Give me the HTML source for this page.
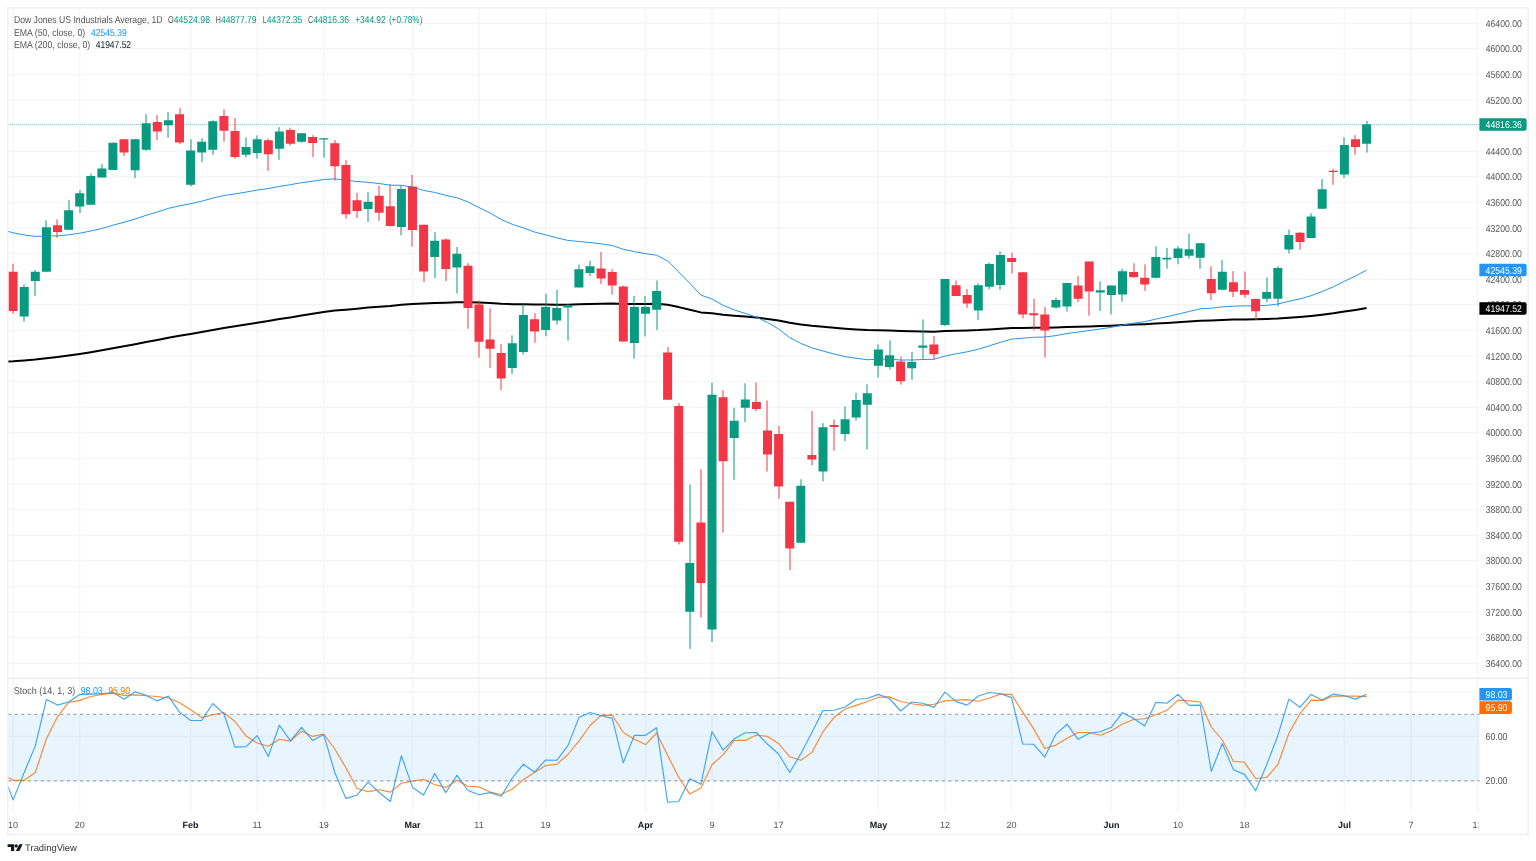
<!DOCTYPE html><html><head><meta charset="utf-8"><style>html,body{margin:0;padding:0;background:#fff;width:1536px;height:861px;overflow:hidden;}</style></head><body><svg width="1536" height="861" viewBox="0 0 1536 861" style="position:absolute;left:0;top:0;font-family:'Liberation Sans', sans-serif;text-rendering:geometricPrecision;will-change:transform"><rect x="0" y="0" width="1536" height="861" fill="#ffffff"/><path d="M8 23.2H1479M8 48.8H1479M8 74.4H1479M8 100.0H1479M8 125.6H1479M8 151.2H1479M8 176.8H1479M8 202.4H1479M8 228.0H1479M8 253.6H1479M8 279.2H1479M8 304.8H1479M8 330.4H1479M8 356.0H1479M8 381.6H1479M8 407.2H1479M8 432.8H1479M8 458.4H1479M8 484.0H1479M8 509.6H1479M8 535.2H1479M8 560.8H1479M8 586.4H1479M8 612.0H1479M8 637.6H1479M8 663.2H1479M8 692.1H1479M8 736.5H1479M8 780.9H1479M13.1 8V813.5M79.7 8V813.5M190.6 8V813.5M257.2 8V813.5M323.7 8V813.5M412.5 8V813.5M479.0 8V813.5M545.6 8V813.5M645.5 8V813.5M712.0 8V813.5M778.6 8V813.5M878.4 8V813.5M945.0 8V813.5M1011.6 8V813.5M1111.4 8V813.5M1178.0 8V813.5M1244.5 8V813.5M1344.4 8V813.5M1410.9 8V813.5M1477.5 8V813.5" stroke="#F6F6F7" stroke-width="1.5" fill="none"/><rect x="8" y="714.3" width="1471.6" height="66.6" fill="rgba(33,150,243,0.1)"/><path d="M8.2 714.3H1479.5" stroke="#787B86" stroke-width="1" stroke-dasharray="3 3.53" opacity="0.8" fill="none"/><path d="M8.2 780.9H1479.5" stroke="#787B86" stroke-width="1" stroke-dasharray="3 3.53" opacity="0.8" fill="none"/><path d="M8 124.5H1479" stroke="#089981" stroke-width="1" stroke-dasharray="1 1" opacity="0.45" fill="none"/><polyline points="8.0,361.4 13.1,361.2 24.2,360.5 35.3,359.6 46.4,358.3 57.5,357.0 68.6,355.5 79.7,353.9 90.8,352.2 101.9,350.3 112.9,348.3 124.0,346.3 135.1,344.3 146.2,342.1 157.3,340.0 168.4,337.8 179.5,335.8 190.6,334.0 201.7,332.1 212.8,330.0 223.9,328.0 235.0,326.3 246.1,324.5 257.2,322.7 268.3,321.0 279.4,319.1 290.4,317.4 301.5,315.5 312.6,313.8 323.7,312.1 334.8,310.6 345.9,309.7 357.0,308.7 368.1,307.6 379.2,306.7 390.3,305.9 401.4,304.7 412.5,304.0 423.6,303.6 434.7,303.0 445.8,302.7 456.9,302.2 468.0,302.2 479.0,302.6 490.1,303.1 501.2,303.8 512.3,304.2 523.4,304.3 534.5,304.6 545.6,304.6 556.7,304.7 567.8,304.7 578.9,304.3 590.0,303.9 601.1,303.7 612.2,303.5 623.3,303.9 634.4,303.9 645.5,303.9 656.6,303.8 667.6,304.8 678.7,307.1 689.8,309.7 700.9,312.4 712.0,313.2 723.1,314.7 734.2,315.7 745.3,316.6 756.4,317.5 767.5,318.9 778.6,320.5 789.7,322.8 800.8,324.4 811.9,325.8 823.0,326.8 834.1,327.8 845.1,328.7 856.2,329.4 867.3,330.0 878.4,330.2 889.5,330.5 900.6,331.0 911.7,331.3 922.8,331.4 933.9,331.7 945.0,331.1 956.1,330.8 967.2,330.5 978.3,330.1 989.4,329.4 1000.5,328.7 1011.6,328.0 1022.7,327.9 1033.7,327.7 1044.8,327.8 1055.9,327.5 1067.0,327.0 1078.1,326.8 1089.2,326.4 1100.3,326.1 1111.4,325.7 1122.5,325.1 1133.6,324.6 1144.7,324.2 1155.8,323.6 1166.9,322.9 1178.0,322.2 1189.1,321.4 1200.2,320.7 1211.3,320.4 1222.3,319.9 1233.4,319.6 1244.5,319.4 1255.6,319.3 1266.7,319.0 1277.8,318.5 1288.9,317.7 1300.0,316.9 1311.1,315.9 1322.2,314.7 1333.3,313.3 1344.4,311.6 1355.5,309.9 1366.6,308.1" stroke="#000000" stroke-width="2" fill="none" stroke-linejoin="round"/><polyline points="8.0,231.3 13.1,232.8 24.2,234.9 35.3,236.4 46.4,236.0 57.5,235.9 68.6,234.8 79.7,233.2 90.8,231.0 101.9,228.5 112.9,225.2 124.0,222.3 135.1,219.0 146.2,215.3 157.3,212.0 168.4,208.4 179.5,205.8 190.6,203.7 201.7,201.2 212.8,198.1 223.9,195.5 235.0,193.9 246.1,192.1 257.2,190.0 268.3,188.6 279.4,186.4 290.4,184.7 301.5,182.7 312.6,181.2 323.7,179.5 334.8,178.9 345.9,180.3 357.0,181.5 368.1,182.3 379.2,183.5 390.3,185.2 401.4,185.3 412.5,187.1 423.6,190.4 434.7,192.4 445.8,195.4 456.9,197.7 468.0,202.0 479.0,207.5 490.1,213.0 501.2,219.5 512.3,224.3 523.4,227.9 534.5,232.0 545.6,234.9 556.7,237.8 567.8,240.4 578.9,241.5 590.0,242.5 601.1,243.9 612.2,245.5 623.3,249.3 634.4,251.6 645.5,253.7 656.6,255.2 667.6,260.9 678.7,271.9 689.8,283.3 700.9,295.1 712.0,299.0 723.1,305.3 734.2,309.9 745.3,313.4 756.4,317.1 767.5,322.5 778.6,329.0 789.7,337.6 800.8,343.4 811.9,347.9 823.0,351.0 834.1,354.0 845.1,356.6 856.2,358.3 867.3,359.7 878.4,359.3 889.5,359.1 900.6,360.0 911.7,360.0 922.8,359.5 933.9,359.3 945.0,356.1 956.1,353.8 967.2,351.8 978.3,349.2 989.4,345.8 1000.5,342.3 1011.6,339.1 1022.7,338.2 1033.7,337.3 1044.8,337.0 1055.9,335.6 1067.0,333.5 1078.1,332.1 1089.2,330.5 1100.3,329.0 1111.4,327.3 1122.5,325.1 1133.6,323.2 1144.7,321.7 1155.8,319.1 1166.9,316.7 1178.0,314.1 1189.1,311.5 1200.2,308.8 1211.3,308.2 1222.3,306.8 1233.4,306.2 1244.5,305.8 1255.6,306.0 1266.7,305.4 1277.8,304.0 1288.9,301.3 1300.0,298.9 1311.1,295.7 1322.2,291.5 1333.3,286.8 1344.4,281.3 1355.5,276.0 1366.6,270.1" stroke="#2196F3" stroke-width="1" fill="none" stroke-linejoin="round"/><path d="M24 284.3V321.7M35 270.0V295.8M46 220.2V271.8M69 199.9V229.8M80 190.0V213.0M91 173.7V204.7M102 164.1V177.5M113 142.7V170.0M135 139.3V178.0M146 114.2V150.9M168 112.0V137.7M191 139.3V186.5M202 138.3V162.1M213 120.3V154.8M246 137.4V157.5M257 135.4V158.7M279 127.1V159.8M302 133.0V142.8M324 138.2V157.7M368 192.2V222.2M401 185.6V235.2M435 232.2V278.0M457 247.0V293.5M512 335.4V374.0M523 304.4V354.5M546 293.6V336.2M557 289.7V324.6M568 304.0V340.6M579 264.5V287.5M590 260.9V276.1M634 296.0V358.7M645 296.0V336.4M657 280.4V330.1M690 484.6V648.9M712 382.7V642.0M734 407.8V479.8M745 383.3V422.1M801 479.3V542.7M823 423.1V481.4M845 406.5V441.2M856 392.7V420.6M867 384.3V449.4M878 344.4V377.5M890 340.4V369.5M912 351.9V379.8M923 319.4V358.9M945 279.0V326.0M978 283.3V320.0M989 262.6V289.5M1000 251.3V289.8M1056 297.7V308.7M1067 283.0V311.7M1100 281.3V311.0M1111 285.4V314.4M1122 268.9V301.7M1156 246.3V278.5M1167 248.0V268.8M1178 246.3V264.3M1189 233.7V258.7M1200 243.2V268.9M1222 260.1V289.7M1267 277.6V302.2M1278 266.2V306.3M1289 229.6V253.5M1311 213.3V238.0M1322 179.1V208.7M1344 137.3V178.0M1367 120.9V152.6" stroke="#089981" stroke-width="1" fill="none"/><path d="M13 263.8V313.7M57 219.4V237.6M124 139.3V156.1M157 115.1V140.1M180 108.1V144.1M224 109.3V141.8M235 118.0V158.7M268 138.6V170.9M290 127.8V145.5M313 135.1V157.0M335 140.0V180.7M346 160.2V218.7M357 192.9V218.0M379 185.7V220.8M390 184.3V226.5M412 174.8V246.7M424 224.7V282.0M446 238.5V281.0M468 263.1V328.7M479 300.5V357.7M490 308.4V368.1M501 344.1V390.2M535 313.2V342.7M601 252.1V283.9M612 269.2V294.6M623 285.5V341.6M668 347.1V399.8M679 403.2V544.4M701 469.2V617.6M723 390.2V532.7M756 382.4V411.0M767 400.4V471.6M779 425.9V498.7M790 501.8V570.0M812 411.1V465.3M834 419.5V450.7M901 356.7V384.6M934 336.1V359.5M956 280.5V296.1M967 289.1V307.9M1012 252.8V273.5M1023 272.2V318.5M1034 298.9V330.3M1045 307.2V357.5M1078 276.1V302.2M1089 261.6V315.6M1134 263.3V277.3M1145 264.3V290.9M1211 266.2V299.9M1233 271.1V297.0M1245 271.7V297.6M1256 299.0V320.0M1300 232.0V249.5M1333 168.9V184.8M1355 135.2V154.7" stroke="#F23645" stroke-width="1" fill="none"/><path d="M19.7 287.0h9.0v29.4h-9.0zM30.8 271.8h9.0v9.1h-9.0zM41.9 227.2h9.0v44.6h-9.0zM64.1 210.3h9.0v19.5h-9.0zM75.2 193.2h9.0v13.4h-9.0zM86.3 176.1h9.0v28.6h-9.0zM97.4 168.4h9.0v9.1h-9.0zM108.4 142.7h9.0v27.3h-9.0zM130.6 139.3h9.0v31.0h-9.0zM141.7 123.2h9.0v26.5h-9.0zM163.9 120.3h9.0v5.0h-9.0zM186.1 150.5h9.0v34.3h-9.0zM197.2 141.8h9.0v10.8h-9.0zM208.3 121.3h9.0v28.4h-9.0zM241.6 147.0h9.0v7.8h-9.0zM252.7 139.3h9.0v13.8h-9.0zM274.9 131.6h9.0v17.1h-9.0zM297.0 133.3h9.0v8.5h-9.0zM319.2 138.2h9.0v1.3h-9.0zM363.6 201.7h9.0v7.3h-9.0zM396.9 188.9h9.0v38.0h-9.0zM430.2 240.7h9.0v16.4h-9.0zM452.4 253.8h9.0v13.6h-9.0zM507.8 343.2h9.0v24.9h-9.0zM518.9 315.0h9.0v36.9h-9.0zM541.1 307.0h9.0v23.1h-9.0zM552.2 308.0h9.0v12.6h-9.0zM563.3 304.9h9.0v2.6h-9.0zM574.4 269.2h9.0v18.3h-9.0zM585.5 266.3h9.0v6.7h-9.0zM629.9 306.9h9.0v36.2h-9.0zM641.0 306.9h9.0v6.8h-9.0zM652.1 291.1h9.0v18.6h-9.0zM685.3 563.0h9.0v48.7h-9.0zM707.5 394.8h9.0v234.7h-9.0zM729.7 420.8h9.0v17.3h-9.0zM740.8 399.5h9.0v8.3h-9.0zM796.3 485.7h9.0v57.0h-9.0zM818.5 427.2h9.0v44.4h-9.0zM840.6 419.3h9.0v14.8h-9.0zM851.7 400.1h9.0v17.4h-9.0zM862.8 393.2h9.0v11.5h-9.0zM873.9 349.6h9.0v16.2h-9.0zM885.0 355.2h9.0v11.7h-9.0zM907.2 362.1h9.0v6.1h-9.0zM918.3 345.4h9.0v2.4h-9.0zM940.5 279.0h9.0v45.9h-9.0zM973.8 285.3h9.0v25.2h-9.0zM984.9 263.9h9.0v22.9h-9.0zM996.0 255.1h9.0v29.9h-9.0zM1051.4 300.1h9.0v7.4h-9.0zM1062.5 283.0h9.0v23.4h-9.0zM1095.8 290.3h9.0v2.3h-9.0zM1106.9 285.4h9.0v9.5h-9.0zM1118.0 271.2h9.0v23.3h-9.0zM1151.3 256.9h9.0v20.9h-9.0zM1162.4 257.8h9.0v1.8h-9.0zM1173.5 248.6h9.0v9.5h-9.0zM1184.6 249.2h9.0v6.6h-9.0zM1195.7 243.2h9.0v14.6h-9.0zM1217.8 271.8h9.0v17.9h-9.0zM1262.2 292.0h9.0v6.8h-9.0zM1273.3 268.0h9.0v30.8h-9.0zM1284.4 235.1h9.0v14.3h-9.0zM1306.6 216.5h9.0v21.5h-9.0zM1317.7 189.2h9.0v19.5h-9.0zM1339.9 145.0h9.0v29.6h-9.0zM1362.1 124.3h9.0v19.5h-9.0z" fill="#089981"/><path d="M8.6 271.8h9.0v39.3h-9.0zM53.0 225.3h9.0v6.7h-9.0zM119.5 139.3h9.0v13.1h-9.0zM152.8 122.1h9.0v9.5h-9.0zM175.0 114.2h9.0v28.4h-9.0zM219.4 116.0h9.0v14.8h-9.0zM230.5 131.0h9.0v25.9h-9.0zM263.8 140.2h9.0v14.1h-9.0zM285.9 129.9h9.0v13.8h-9.0zM308.1 136.9h9.0v6.1h-9.0zM330.3 143.2h9.0v23.0h-9.0zM341.4 165.1h9.0v49.2h-9.0zM352.5 200.2h9.0v10.8h-9.0zM374.7 195.7h9.0v17.0h-9.0zM385.8 206.2h9.0v19.7h-9.0zM408.0 186.6h9.0v43.3h-9.0zM419.1 224.7h9.0v46.8h-9.0zM441.3 239.5h9.0v29.4h-9.0zM463.5 265.7h9.0v42.3h-9.0zM474.5 304.4h9.0v37.4h-9.0zM485.6 339.4h9.0v9.4h-9.0zM496.7 353.1h9.0v25.3h-9.0zM530.0 319.2h9.0v12.3h-9.0zM596.6 268.5h9.0v10.1h-9.0zM607.7 272.0h9.0v13.5h-9.0zM618.8 286.5h9.0v55.1h-9.0zM663.1 352.5h9.0v47.3h-9.0zM674.2 406.0h9.0v135.7h-9.0zM696.4 522.4h9.0v60.5h-9.0zM718.6 397.2h9.0v64.0h-9.0zM751.9 401.9h9.0v7.2h-9.0zM763.0 430.5h9.0v24.1h-9.0zM774.1 434.1h9.0v52.5h-9.0zM785.2 501.8h9.0v46.8h-9.0zM807.4 455.0h9.0v4.6h-9.0zM829.6 425.1h9.0v1.8h-9.0zM896.1 361.4h9.0v19.8h-9.0zM929.4 344.4h9.0v9.9h-9.0zM951.6 285.2h9.0v10.9h-9.0zM962.7 295.1h9.0v8.3h-9.0zM1007.1 258.1h9.0v3.8h-9.0zM1018.2 272.2h9.0v42.2h-9.0zM1029.2 313.2h9.0v2.0h-9.0zM1040.3 314.4h9.0v16.2h-9.0zM1073.6 285.4h9.0v13.4h-9.0zM1084.7 261.6h9.0v30.0h-9.0zM1129.1 272.0h9.0v5.3h-9.0zM1140.2 277.8h9.0v6.7h-9.0zM1206.8 279.0h9.0v14.3h-9.0zM1228.9 282.3h9.0v9.5h-9.0zM1240.0 290.0h9.0v4.7h-9.0zM1251.1 299.0h9.0v12.2h-9.0zM1295.5 232.8h9.0v9.2h-9.0zM1328.8 170.7h9.0v1.3h-9.0zM1351.0 139.3h9.0v7.8h-9.0z" fill="#F23645"/><polyline points="8.0,777.2 13.1,780.3 24.2,780.3 35.3,772.5 46.4,738.8 57.5,716.8 68.6,702.4 79.7,700.4 90.8,696.5 101.9,694.4 112.9,693.3 124.0,695.4 135.1,694.9 146.2,695.7 157.3,696.5 168.4,698.0 179.5,702.7 190.6,709.8 201.7,717.6 212.8,714.8 223.9,712.6 235.0,721.5 246.1,736.1 257.2,743.0 268.3,746.3 279.4,739.3 290.4,741.1 301.5,731.0 312.6,736.4 323.7,734.1 334.8,749.0 345.9,767.8 357.0,788.5 368.1,791.6 379.2,789.8 390.3,792.1 401.4,783.2 412.5,781.1 423.6,779.2 434.7,784.7 445.8,787.4 456.9,780.3 468.0,786.3 479.0,786.9 490.1,792.1 501.2,794.5 512.3,789.0 523.4,779.6 534.5,772.5 545.6,765.5 556.7,764.4 567.8,754.5 578.9,741.1 590.0,725.5 601.1,715.3 612.2,715.3 623.3,732.5 634.4,739.3 645.5,744.6 656.6,733.0 667.6,755.3 678.7,777.2 689.8,794.1 700.9,787.9 712.0,764.7 723.1,754.9 734.2,740.4 745.3,740.4 756.4,735.0 767.5,736.4 778.6,743.5 789.7,756.8 800.8,760.3 811.9,752.4 823.0,731.7 834.1,717.3 845.1,709.0 856.2,705.4 867.3,701.5 878.4,697.2 889.5,696.9 900.6,701.5 911.7,703.8 922.8,705.4 933.9,704.3 945.0,700.9 956.1,700.1 967.2,699.6 978.3,701.2 989.4,698.0 1000.5,694.1 1011.6,694.4 1022.7,712.1 1033.7,728.9 1044.8,748.5 1055.9,745.1 1067.0,738.3 1078.1,732.5 1089.2,732.5 1100.3,735.2 1111.4,730.8 1122.5,724.0 1133.6,719.5 1144.7,718.7 1155.8,714.8 1166.9,710.3 1178.0,700.1 1189.1,700.9 1200.2,702.0 1211.3,727.0 1222.3,740.0 1233.4,761.2 1244.5,762.3 1255.6,778.5 1266.7,777.5 1277.8,764.7 1288.9,733.3 1300.0,713.7 1311.1,700.1 1322.2,700.4 1333.3,696.0 1344.4,696.1 1355.5,696.1 1366.6,696.6" stroke="#FF6D00" stroke-width="1.15" fill="none" stroke-linejoin="round" opacity="0.8"/><polyline points="8.0,786.6 13.1,799.9 24.2,772.5 35.3,745.9 46.4,699.6 57.5,705.1 68.6,702.0 79.7,694.6 90.8,694.1 101.9,693.8 112.9,692.2 124.0,699.3 135.1,691.8 146.2,695.4 157.3,700.9 168.4,696.1 179.5,712.1 190.6,720.5 201.7,720.5 212.8,703.5 223.9,713.7 235.0,747.1 246.1,746.6 257.2,735.7 268.3,756.5 279.4,725.2 290.4,740.8 301.5,727.4 312.6,740.4 323.7,734.6 334.8,772.5 345.9,798.4 357.0,795.2 368.1,782.2 379.2,792.5 390.3,801.5 401.4,755.7 412.5,787.4 423.6,794.9 434.7,773.6 445.8,792.6 456.9,775.2 468.0,790.5 479.0,794.8 490.1,792.6 501.2,796.3 512.3,778.0 523.4,764.2 534.5,772.2 545.6,760.0 556.7,760.3 567.8,745.9 578.9,717.6 590.0,712.5 601.1,715.7 612.2,718.4 623.3,762.8 634.4,735.3 645.5,735.3 656.6,727.8 667.6,802.3 678.7,801.5 689.8,778.8 700.9,784.3 712.0,731.7 723.1,750.1 734.2,738.8 745.3,732.8 756.4,732.5 767.5,744.3 778.6,754.0 789.7,772.5 800.8,753.7 811.9,732.5 823.0,710.6 834.1,710.3 845.1,707.0 856.2,699.3 867.3,698.5 878.4,694.4 889.5,698.5 900.6,711.0 911.7,702.0 922.8,703.2 933.9,707.4 945.0,692.1 956.1,701.6 967.2,705.1 978.3,696.0 989.4,692.5 1000.5,693.8 1011.6,697.6 1022.7,744.0 1033.7,744.3 1044.8,757.1 1055.9,734.1 1067.0,724.2 1078.1,739.3 1089.2,733.3 1100.3,731.7 1111.4,727.2 1122.5,712.6 1133.6,718.4 1144.7,725.9 1155.8,702.4 1166.9,703.2 1178.0,694.4 1189.1,705.4 1200.2,705.1 1211.3,771.4 1222.3,743.5 1233.4,769.7 1244.5,774.4 1255.6,790.8 1266.7,764.7 1277.8,735.7 1288.9,699.1 1300.0,707.3 1311.1,694.4 1322.2,700.1 1333.3,694.1 1344.4,695.7 1355.5,699.1 1366.6,694.2" stroke="#2196F3" stroke-width="1.15" fill="none" stroke-linejoin="round" opacity="0.85"/><path d="M8 678.3H1528" stroke="#ECEEF2" stroke-width="1.5" fill="none"/><rect x="7.7" y="7.75" width="1520.4" height="826.85" stroke="#EFF0F4" stroke-width="1.5" fill="none"/><text x="13.9" y="23.0" font-size="10" fill="#555555" textLength="148.7" lengthAdjust="spacingAndGlyphs">Dow Jones US Industrials Average, 1D</text><text x="168.0" y="23.0" font-size="10" fill="#555555" textLength="5.7" lengthAdjust="spacingAndGlyphs">O</text><text x="173.7" y="23.0" font-size="10" fill="#089981" textLength="36.3" lengthAdjust="spacingAndGlyphs">44524.98</text><text x="215.8" y="23.0" font-size="10" fill="#555555" textLength="5.1" lengthAdjust="spacingAndGlyphs">H</text><text x="220.9" y="23.0" font-size="10" fill="#089981" textLength="35.7" lengthAdjust="spacingAndGlyphs">44877.79</text><text x="262.8" y="23.0" font-size="10" fill="#555555" textLength="3.9" lengthAdjust="spacingAndGlyphs">L</text><text x="266.7" y="23.0" font-size="10" fill="#089981" textLength="35.6" lengthAdjust="spacingAndGlyphs">44372.35</text><text x="308.0" y="23.0" font-size="10" fill="#555555" textLength="5.2" lengthAdjust="spacingAndGlyphs">C</text><text x="313.2" y="23.0" font-size="10" fill="#089981" textLength="35.9" lengthAdjust="spacingAndGlyphs">44816.36</text><text x="355.2" y="23.0" font-size="10" fill="#089981" textLength="30.5" lengthAdjust="spacingAndGlyphs">+344.92</text><text x="388.9" y="23.0" font-size="10" fill="#089981" textLength="33.5" lengthAdjust="spacingAndGlyphs">(+0.78%)</text><text x="13.9" y="35.6" font-size="10" fill="#555555" textLength="71.3" lengthAdjust="spacingAndGlyphs">EMA (50, close, 0)</text><text x="91.0" y="35.6" font-size="10" fill="#2196F3" textLength="35.8" lengthAdjust="spacingAndGlyphs">42545.39</text><text x="13.9" y="48.1" font-size="10" fill="#555555" textLength="76.4" lengthAdjust="spacingAndGlyphs">EMA (200, close, 0)</text><text x="95.7" y="48.1" font-size="10" fill="#131722" textLength="35.4" lengthAdjust="spacingAndGlyphs">41947.52</text><text x="13.8" y="694.0" font-size="10" fill="#555555" textLength="61.4" lengthAdjust="spacingAndGlyphs">Stoch (14, 1, 3)</text><text x="80.7" y="694.0" font-size="10" fill="#2196F3" textLength="22.0" lengthAdjust="spacingAndGlyphs">98.03</text><text x="108.2" y="694.0" font-size="10" fill="#FF6D00" textLength="21.9" lengthAdjust="spacingAndGlyphs">95.90</text><text x="1521.9" y="26.7" font-size="10" fill="#555555" textLength="36.2" lengthAdjust="spacingAndGlyphs" text-anchor="end">46400.00</text><text x="1521.9" y="52.3" font-size="10" fill="#555555" textLength="36.2" lengthAdjust="spacingAndGlyphs" text-anchor="end">46000.00</text><text x="1521.9" y="77.9" font-size="10" fill="#555555" textLength="36.2" lengthAdjust="spacingAndGlyphs" text-anchor="end">45600.00</text><text x="1521.9" y="103.5" font-size="10" fill="#555555" textLength="36.2" lengthAdjust="spacingAndGlyphs" text-anchor="end">45200.00</text><text x="1521.9" y="154.7" font-size="10" fill="#555555" textLength="36.2" lengthAdjust="spacingAndGlyphs" text-anchor="end">44400.00</text><text x="1521.9" y="180.3" font-size="10" fill="#555555" textLength="36.2" lengthAdjust="spacingAndGlyphs" text-anchor="end">44000.00</text><text x="1521.9" y="205.9" font-size="10" fill="#555555" textLength="36.2" lengthAdjust="spacingAndGlyphs" text-anchor="end">43600.00</text><text x="1521.9" y="231.5" font-size="10" fill="#555555" textLength="36.2" lengthAdjust="spacingAndGlyphs" text-anchor="end">43200.00</text><text x="1521.9" y="257.1" font-size="10" fill="#555555" textLength="36.2" lengthAdjust="spacingAndGlyphs" text-anchor="end">42800.00</text><text x="1521.9" y="282.7" font-size="10" fill="#555555" textLength="36.2" lengthAdjust="spacingAndGlyphs" text-anchor="end">42400.00</text><text x="1521.9" y="308.3" font-size="10" fill="#555555" textLength="36.2" lengthAdjust="spacingAndGlyphs" text-anchor="end">42000.00</text><text x="1521.9" y="333.9" font-size="10" fill="#555555" textLength="36.2" lengthAdjust="spacingAndGlyphs" text-anchor="end">41600.00</text><text x="1521.9" y="359.5" font-size="10" fill="#555555" textLength="36.2" lengthAdjust="spacingAndGlyphs" text-anchor="end">41200.00</text><text x="1521.9" y="385.1" font-size="10" fill="#555555" textLength="36.2" lengthAdjust="spacingAndGlyphs" text-anchor="end">40800.00</text><text x="1521.9" y="410.7" font-size="10" fill="#555555" textLength="36.2" lengthAdjust="spacingAndGlyphs" text-anchor="end">40400.00</text><text x="1521.9" y="436.3" font-size="10" fill="#555555" textLength="36.2" lengthAdjust="spacingAndGlyphs" text-anchor="end">40000.00</text><text x="1521.9" y="461.9" font-size="10" fill="#555555" textLength="36.2" lengthAdjust="spacingAndGlyphs" text-anchor="end">39600.00</text><text x="1521.9" y="487.5" font-size="10" fill="#555555" textLength="36.2" lengthAdjust="spacingAndGlyphs" text-anchor="end">39200.00</text><text x="1521.9" y="513.1" font-size="10" fill="#555555" textLength="36.2" lengthAdjust="spacingAndGlyphs" text-anchor="end">38800.00</text><text x="1521.9" y="538.7" font-size="10" fill="#555555" textLength="36.2" lengthAdjust="spacingAndGlyphs" text-anchor="end">38400.00</text><text x="1521.9" y="564.3" font-size="10" fill="#555555" textLength="36.2" lengthAdjust="spacingAndGlyphs" text-anchor="end">38000.00</text><text x="1521.9" y="589.9" font-size="10" fill="#555555" textLength="36.2" lengthAdjust="spacingAndGlyphs" text-anchor="end">37600.00</text><text x="1521.9" y="615.5" font-size="10" fill="#555555" textLength="36.2" lengthAdjust="spacingAndGlyphs" text-anchor="end">37200.00</text><text x="1521.9" y="641.1" font-size="10" fill="#555555" textLength="36.2" lengthAdjust="spacingAndGlyphs" text-anchor="end">36800.00</text><text x="1521.9" y="666.7" font-size="10" fill="#555555" textLength="36.2" lengthAdjust="spacingAndGlyphs" text-anchor="end">36400.00</text><text x="1507.5" y="740.0" font-size="10" fill="#555555" textLength="22.0" lengthAdjust="spacingAndGlyphs" text-anchor="end">60.00</text><text x="1507.5" y="784.4" font-size="10" fill="#555555" textLength="22.0" lengthAdjust="spacingAndGlyphs" text-anchor="end">20.00</text><path d="M1479.4 118.2h45.2a2 2 0 0 1 2 2v8.6a2 2 0 0 1 -2 2h-45.2z" fill="#089981"/><text x="1521.9" y="128.0" font-size="10" fill="#ffffff" textLength="36.3" lengthAdjust="spacingAndGlyphs" text-anchor="end">44816.36</text><path d="M1479.4 263.7h45.2a2 2 0 0 1 2 2v8.6a2 2 0 0 1 -2 2h-45.2z" fill="#2196F3"/><text x="1521.9" y="273.5" font-size="10" fill="#ffffff" textLength="36.3" lengthAdjust="spacingAndGlyphs" text-anchor="end">42545.39</text><path d="M1479.4 302.2h45.2a2 2 0 0 1 2 2v8.6a2 2 0 0 1 -2 2h-45.2z" fill="#000000"/><text x="1521.9" y="312.0" font-size="10" fill="#ffffff" textLength="36.3" lengthAdjust="spacingAndGlyphs" text-anchor="end">41947.52</text><path d="M1479.4 688.0h30.5a2 2 0 0 1 2 2v8.6a2 2 0 0 1 -2 2h-30.5z" fill="#2196F3"/><text x="1507.5" y="697.8" font-size="10" fill="#ffffff" textLength="22.0" lengthAdjust="spacingAndGlyphs" text-anchor="end">98.03</text><path d="M1479.4 701.3h30.5a2 2 0 0 1 2 2v8.6a2 2 0 0 1 -2 2h-30.5z" fill="#FF6D00"/><text x="1507.5" y="711.1" font-size="10" fill="#ffffff" textLength="22.0" lengthAdjust="spacingAndGlyphs" text-anchor="end">95.90</text><text x="13.1" y="828.0" font-size="9" fill="#555555" text-anchor="middle">10</text><text x="79.7" y="828.0" font-size="9" fill="#555555" text-anchor="middle">20</text><text x="190.6" y="828.0" font-size="9" fill="#131722" font-weight="bold" text-anchor="middle">Feb</text><text x="257.2" y="828.0" font-size="9" fill="#555555" text-anchor="middle">11</text><text x="323.7" y="828.0" font-size="9" fill="#555555" text-anchor="middle">19</text><text x="412.5" y="828.0" font-size="9" fill="#131722" font-weight="bold" text-anchor="middle">Mar</text><text x="479.0" y="828.0" font-size="9" fill="#555555" text-anchor="middle">11</text><text x="545.6" y="828.0" font-size="9" fill="#555555" text-anchor="middle">19</text><text x="645.5" y="828.0" font-size="9" fill="#131722" font-weight="bold" text-anchor="middle">Apr</text><text x="712.0" y="828.0" font-size="9" fill="#555555" text-anchor="middle">9</text><text x="778.6" y="828.0" font-size="9" fill="#555555" text-anchor="middle">17</text><text x="878.4" y="828.0" font-size="9" fill="#131722" font-weight="bold" text-anchor="middle">May</text><text x="945.0" y="828.0" font-size="9" fill="#555555" text-anchor="middle">12</text><text x="1011.6" y="828.0" font-size="9" fill="#555555" text-anchor="middle">20</text><text x="1111.4" y="828.0" font-size="9" fill="#131722" font-weight="bold" text-anchor="middle">Jun</text><text x="1178.0" y="828.0" font-size="9" fill="#555555" text-anchor="middle">10</text><text x="1244.5" y="828.0" font-size="9" fill="#555555" text-anchor="middle">18</text><text x="1344.4" y="828.0" font-size="9" fill="#131722" font-weight="bold" text-anchor="middle">Jul</text><text x="1410.9" y="828.0" font-size="9" fill="#555555" text-anchor="middle">7</text><clipPath id="c13"><rect x="1460" y="810" width="18.5" height="20"/></clipPath><g clip-path="url(#c13)"><text x="1477.5" y="828.0" font-size="9" fill="#555555" text-anchor="middle">13</text></g><g fill="#131722"><path d="M7.6 844.2h6.6v6.8h-3.2v-4h-3.4z"/><circle cx="16.2" cy="845.9" r="1.6"/><path d="M19.3 844.2h3.4l-3.4 6.8h-3.4z"/></g><text x="25.1" y="851.0" font-size="9.5" fill="#333333" textLength="51.8" lengthAdjust="spacingAndGlyphs">TradingView</text></svg></body></html>
